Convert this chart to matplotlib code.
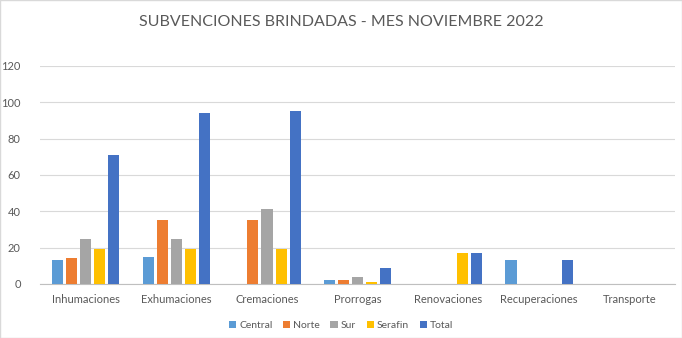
import matplotlib.pyplot as plt
import numpy as np
from matplotlib.patches import Rectangle

categorias = ["Inhumaciones", "Exhumaciones", "Cremaciones", "Prorrogas",
              "Renovaciones", "Recuperaciones", "Transporte"]
central = [13, 15, 0, 2, 0, 13, 0]
norte = [14, 35, 35, 2, 0, 0, 0]
sur = [25, 25, 41, 4, 0, 0, 0]
serafin = [19, 19, 19, 1, 17, 0, 0]
total = [71, 94, 95, 9, 17, 13, 0]

series = [("Central", central, "#5B9BD5"),
          ("Norte", norte, "#ED7D31"),
          ("Sur", sur, "#A5A5A5"),
          ("Serafin", serafin, "#FFC000"),
          ("Total", total, "#4472C4")]

plt.rcParams["font.family"] = ["Lato", "DejaVu Sans"]

fig = plt.figure(figsize=(6.82, 3.38), dpi=100)
ax = fig.add_axes([0.059, 0.16, 0.931, 0.645])

x = np.arange(len(categorias))
paso = 0.155
ancho = 0.122
for i, (nombre, valores, color) in enumerate(series):
    ax.bar(x + (i - 2) * paso, valores, width=ancho, color=color,
           label=nombre, zorder=3)

ax.set_xlim(-0.5, len(categorias) - 0.5)
ax.set_ylim(0, 120)
ax.set_yticks(range(0, 121, 20))
ax.set_xticks(x)
ax.set_xticklabels(categorias)
ax.grid(axis="y", color="#D9D9D9", linewidth=0.8, zorder=0)
ax.tick_params(axis="both", length=0, labelsize=8, colors="#595959")
ax.tick_params(axis="x", pad=7)
ax.tick_params(axis="y", pad=14)
for lado in ["top", "right", "left"]:
    ax.spines[lado].set_visible(False)
ax.spines["bottom"].set_color("#BFBFBF")

fig.suptitle("SUBVENCIONES BRINDADAS - MES NOVIEMBRE 2022", y=0.955,
             fontsize=11.5, color="#595959")

fig.legend(loc="lower center", ncol=5, bbox_to_anchor=(0.5, -0.005),
           frameon=False, fontsize=7.5, handlelength=0.7, handleheight=0.7,
           handletextpad=0.3, columnspacing=1.0, labelcolor="#595959")

fig.patches.append(Rectangle((0, 0), 1, 1, transform=fig.transFigure,
                             fill=False, edgecolor="#D9D9D9", linewidth=1))

fig.savefig("out.png", dpi=100)
